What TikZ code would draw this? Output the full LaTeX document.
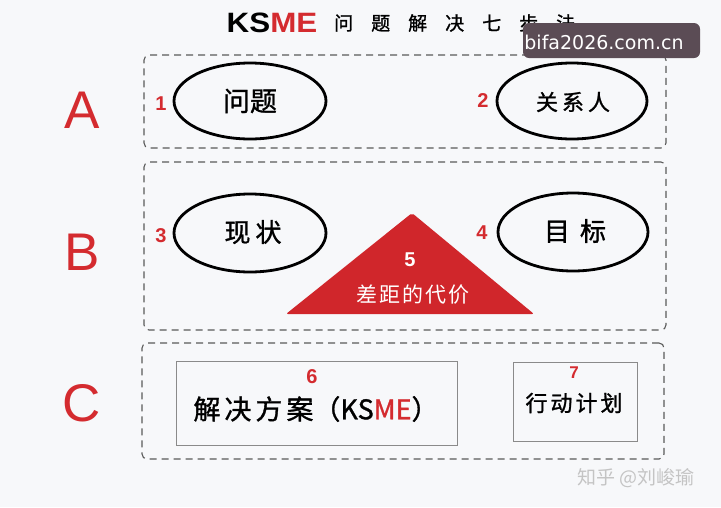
\documentclass[tikz,border=0pt]{standalone}
\usepackage{fontspec}
\setmainfont{Liberation Sans}
\newfontfamily\cjk{Noto Sans CJK SC}
\newfontfamily\cjkb[FakeBold=1.2]{Noto Sans CJK SC}
\newfontfamily\wmfont{DejaVu Sans}
\usetikzlibrary{shapes.geometric}
\definecolor{bg}{HTML}{F7F8FA}
\definecolor{dgray}{HTML}{5A5A5A}
\definecolor{numred}{HTML}{D42B2F}
\definecolor{trired}{HTML}{D0262B}
\definecolor{wmbg}{HTML}{5B4C55}
\definecolor{lgray}{HTML}{C4C4C4}
\definecolor{boxgray}{HTML}{8A8A8A}
\tikzset{
  dbox/.style={draw=dgray, dash pattern=on 7pt off 5pt, line width=1.1pt, rounded corners=5pt, inner sep=0pt},
  oval/.style={draw=black, line width=2.8pt, ellipse, inner sep=0pt},
  sbox/.style={draw=boxgray, line width=1pt, inner sep=0pt},
  num/.style={text=numred, font=\bfseries\fontsize{20}{20}\selectfont, inner sep=0pt},
  big/.style={text=numred, font=\fontsize{53}{53}\selectfont, inner sep=0pt},
  ctext/.style={font=\cjk\fontsize{#1}{#1}\selectfont, inner sep=0pt},
  btext/.style={font=\cjkb\fontsize{#1}{#1}\selectfont, inner sep=0pt},
}
\begin{document}
\begin{tikzpicture}[x=1pt,y=-1pt]
\fill[bg] (0,0) rectangle (721,507);
\useasboundingbox (0,0) rectangle (721,507);

% title
\node[inner sep=0pt, anchor=center] (tks) at (272,23) {\bfseries\fontsize{28}{28}\selectfont\scalebox{1.12}[1]{KS\textcolor{numred}{ME}}};
\node[btext=19, anchor=west] (tcn) at (334,23) {问\hspace{18pt}题\hspace{18pt}解\hspace{18pt}决\hspace{18pt}七\hspace{18pt}步\hspace{18pt}法};

% dashed boxes
\node[dbox, minimum width=522pt, minimum height=93pt] (boxA) at (405,101.5) {};
\node[dbox, minimum width=522pt, minimum height=168pt] (boxB) at (405,246) {};
\node[dbox, minimum width=522pt, minimum height=116pt] (boxC) at (403,401) {};

% row letters
\node[big] (lA) at (82,110) {A};
\node[big] (lB) at (82,252) {B};
\node[big] (lC) at (82,403) {C};

% row A
\node[oval, minimum width=152pt, minimum height=76pt] (e1) at (250,101) {};
\node[btext=27] (t1) at (250,101) {问题};
\node[num] (n1) at (161,104) {1};
\node[oval, minimum width=150pt, minimum height=76pt] (e2) at (572,101) {};
\node[btext=22] (t2) at (573,102) {关\hspace{4pt}系\hspace{4pt}人};
\node[num] (n2) at (483,101) {2};

% row B
\node[oval, minimum width=152pt, minimum height=78pt] (e3) at (250,233) {};
\node[btext=26] (t3) at (253,232) {现\hspace{5pt}状};
\node[num] (n3) at (161,236) {3};
\node[oval, minimum width=150pt, minimum height=78pt] (e4) at (573,232) {};
\node[btext=26] (t4) at (575,231) {目\hspace{10pt}标};
\node[num] (n4) at (482,233) {4};

% triangle
\coordinate (ta) at (412,213);
\coordinate (tl) at (286,314);
\coordinate (tr) at (534,314);
\fill[trired, rounded corners=2pt] (ta) -- (tr) -- (tl) -- cycle;
\node[text=white, font=\fontsize{20}{20}\selectfont\bfseries, inner sep=0pt] (n5) at (410,260) {5};
\node[ctext=21, text=white] (t5) at (413,295) {差\hspace{2pt}距\hspace{2pt}的\hspace{2pt}代\hspace{2pt}价};

% row C
\node[sbox, minimum width=281pt, minimum height=84pt] (b6) at (316.5,403) {};
\node[num] (n6) at (312,377) {6};
\node[btext=27] (t6) at (316,409) {解\hspace{4pt}决\hspace{4pt}方\hspace{4pt}案（KS\textcolor{numred}{ME}）};
\node[sbox, minimum width=124pt, minimum height=79pt] (b7) at (575,401.5) {};
\node[num, font=\bfseries\fontsize{17}{17}\selectfont] (n7) at (574,373) {7};
\node[btext=22] (t7) at (574,403) {行\hspace{3pt}动\hspace{3pt}计\hspace{3pt}划};

% watermarks
\fill[wmbg, rounded corners=6pt] (523,23) rectangle (700,58);
\node[text=white, font=\wmfont\fontsize{19}{19}\selectfont, inner sep=0pt] (wm) at (604,42) {bifa2026.com.cn};
\node[ctext=19, text=lgray] (zh) at (636,478) {知乎 @刘峻瑜};
\end{tikzpicture}
\end{document}
